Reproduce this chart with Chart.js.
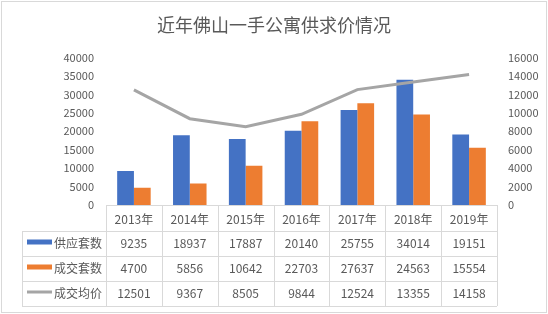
<!DOCTYPE html>
<html>
<head>
<meta charset="utf-8">
<script src="https://cdn.jsdelivr.net/npm/chart.js@4.4.1/dist/chart.umd.min.js"></script>
<style>
  html, body { margin: 0; padding: 0; background: #fff; }
  #wrap { width: 548px; height: 314px; position: relative; }
</style>
</head>
<body>
<div id="wrap"><canvas id="chart"></canvas></div>
<script>
var years = ['2013年', '2014年', '2015年', '2016年', '2017年', '2018年', '2019年'];
var supply = [9235, 18937, 17887, 20140, 25755, 34014, 19151];
var deals = [4700, 5856, 10642, 22703, 27637, 24563, 15554];
var price = [12501, 9367, 8505, 9844, 12524, 13355, 14158];
var seriesNames = ['供应套数', '成交套数', '成交均价'];

var FONT = '"Noto Sans CJK SC", "Microsoft YaHei", sans-serif';
var TXT = '#595959';
var GRID = '#d9d9d9';

// draws the data table below the plot, using the x scale for column positions
var tablePlugin = {
    id: 'dataTable',
    afterDraw: function (chart) {
        var ctx = chart.ctx;
        var x = chart.scales.x;
        var left = x.left, right = x.right;
        var top = chart.chartArea.bottom;
        var rowH = 25;
        var headH = 26;
        var legendLeft = 22;
        var colW = (right - left) / years.length;

        ctx.save();
        ctx.strokeStyle = GRID;
        ctx.lineWidth = 1;

        // horizontal lines
        ctx.beginPath();
        ctx.moveTo(left, top + 0.5);
        ctx.lineTo(right, top + 0.5);
        for (var r = 0; r <= 3; r++) {
            var y = Math.round(top + headH + r * rowH) + 0.5;
            ctx.moveTo(legendLeft, y);
            ctx.lineTo(right, y);
        }
        // vertical lines
        var bottom = top + headH + 3 * rowH;
        ctx.moveTo(legendLeft + 0.5, top + headH);
        ctx.lineTo(legendLeft + 0.5, bottom);
        for (var c = 0; c <= years.length; c++) {
            var vx = Math.round(left + c * colW) + 0.5;
            ctx.moveTo(vx, top);
            ctx.lineTo(vx, bottom);
        }
        ctx.stroke();

        // legend keys + names
        var rows = [supply, deals, price];
        ctx.font = '12px ' + FONT;
        ctx.textBaseline = 'middle';
        for (var i = 0; i < 3; i++) {
            var cy = top + headH + i * rowH + rowH / 2;
            var ds = chart.data.datasets[i];
            ctx.fillStyle = ds.borderColor;
            if (i < 2) {
                ctx.fillRect(27, cy - 4, 25, 5);
            } else {
                ctx.fillRect(27, cy - 3, 25, 3);
            }
            ctx.fillStyle = TXT;
            ctx.textAlign = 'left';
            ctx.fillText(seriesNames[i], 54, cy);

            ctx.textAlign = 'center';
            for (var j = 0; j < years.length; j++) {
                ctx.fillText(String(rows[i][j]), x.getPixelForValue(j), cy);
            }
        }

        // outer border
        ctx.strokeStyle = GRID;
        ctx.strokeRect(1.5, 1.5, chart.width - 3, chart.height - 3);
        ctx.restore();
    }
};

function plain(v) { return String(v); }

new Chart(document.getElementById('chart'), {
    data: {
        labels: years,
        datasets: [{
            type: 'bar',
            label: seriesNames[0],
            data: supply,
            backgroundColor: '#4472C4',
            borderColor: '#4472C4',
            yAxisID: 'y',
            order: 2
        }, {
            type: 'bar',
            label: seriesNames[1],
            data: deals,
            backgroundColor: '#ED7D31',
            borderColor: '#ED7D31',
            yAxisID: 'y',
            order: 2
        }, {
            type: 'line',
            label: seriesNames[2],
            data: price,
            borderColor: '#A5A5A5',
            backgroundColor: '#A5A5A5',
            borderWidth: 3,
            pointRadius: 0,
            tension: 0,
            yAxisID: 'y1',
            order: 1
        }]
    },
    options: {
        responsive: true,
        maintainAspectRatio: false,
        animation: false,
        layout: { padding: { top: 0, left: 0, right: 0, bottom: 2 } },
        datasets: {
            bar: { barPercentage: 1, categoryPercentage: 0.6 }
        },
        plugins: {
            legend: { display: false },
            tooltip: { enabled: false },
            title: {
                display: true,
                text: '近年佛山一手公寓供求价情况',
                color: TXT,
                font: { family: FONT, size: 18, weight: 'normal' },
                padding: { top: 14, bottom: 22 }
            }
        },
        scales: {
            x: {
                grid: { display: false, drawTicks: false },
                border: { display: false },
                ticks: { color: TXT, font: { family: FONT, size: 12 }, padding: 7, maxRotation: 0 },
                afterFit: function (s) { s.height = 107; }
            },
            y: {
                position: 'left',
                min: 0, max: 40000,
                grid: { display: false, drawTicks: false },
                border: { display: false },
                ticks: { stepSize: 5000, color: TXT, font: { family: FONT, size: 11 }, padding: 12, callback: plain },
                afterFit: function (s) { s.width = 106; }
            },
            y1: {
                position: 'right',
                min: 0, max: 16000,
                grid: { display: false, drawTicks: false },
                border: { display: false },
                ticks: { stepSize: 2000, color: TXT, font: { family: FONT, size: 11 }, padding: 11, callback: plain },
                afterFit: function (s) { s.width = 51; }
            }
        }
    },
    plugins: [tablePlugin]
});
</script>
</body>
</html>
